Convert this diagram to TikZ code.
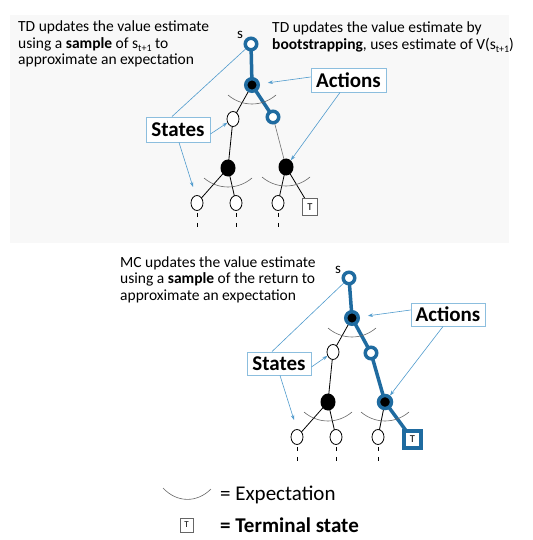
\documentclass[tikz,border=0pt]{standalone}
\usepackage{fontspec}
\setmainfont{Carlito}
\usetikzlibrary{shapes.geometric,arrows.meta,calc}
\definecolor{pathblue}{RGB}{31,107,160}
\definecolor{pointer}{RGB}{80,155,205}
\definecolor{boxline}{RGB}{140,190,222}
\definecolor{panel}{RGB}{248,248,248}
\pgfdeclarelayer{back}
\pgfdeclarelayer{bg}
\pgfsetlayers{back,bg,main}
\newcommand{\subtt}[1]{\raisebox{-3.5pt}{\fontsize{10}{10}\selectfont #1}}
\tikzset{
  txt/.style={anchor=base west, inner sep=0, font=\fontsize{15.5}{17}\selectfont},
  bigtxt/.style={anchor=base west, inner sep=0, font=\fontsize{21}{23}\selectfont},
  state/.style={ellipse, draw, line width=0.8pt, fill=white, minimum width=12pt, minimum height=15pt, inner sep=0},
  act/.style={ellipse, fill=black, minimum width=15pt, minimum height=17pt, inner sep=0},
  pstate/.style={circle, draw=pathblue, line width=3.5pt, fill=white, minimum size=11.5pt, inner sep=0},
  pact/.style={circle, draw=pathblue, line width=3.5pt, fill=black, minimum size=12.5pt, inner sep=0},
  tbox/.style={rectangle, draw=black!60, line width=0.6pt, fill=white, minimum width=15pt, minimum height=17pt, inner sep=0, font=\fontsize{10.5}{11}\selectfont},
  ptbox/.style={rectangle, draw=pathblue, line width=3.5pt, fill=white, minimum width=17pt, minimum height=17pt, inner sep=0, font=\fontsize{10.5}{11}\selectfont},
  lbl/.style={rectangle, draw=boxline, line width=0.9pt, fill=white, inner sep=0, minimum height=24pt, font=\fontsize{21}{23}\selectfont\bfseries},
  edge/.style={line width=0.8pt, black},
  thinedge/.style={line width=0.6pt, black!55},
  pedge/.style={line width=3.5pt, pathblue},
  pointerline/.style={line width=0.6pt, pointer},
  pointerarrow/.style={pointerline, -{Stealth[length=5pt,width=3.5pt]}},
  expect/.style={line width=0.6pt, black!60},
  dashline/.style={line width=0.9pt, black, dash pattern=on 4pt off 6pt},
  slabel/.style={inner sep=0, font=\fontsize{15}{15}\selectfont}
}
\begin{document}
\begin{tikzpicture}[x=1pt,y=-1pt]
\useasboundingbox (0,0) rectangle (532,540);
\begin{pgfonlayer}{back}
\fill[panel] (10,15) rectangle (509,243);
\end{pgfonlayer}

% ---------- texts ----------
\node[txt] (tl1) at (18,32) {TD updates the value estimate};
\node[txt] (tl2) at (18,48.5) {using a \textbf{sample} of s\subtt{t+1} to};
\node[txt] (tl3) at (18,65) {approximate an expectation};
\node[txt] (tr1) at (272,33) {TD updates the value estimate by};
\node[txt] (tr2) at (272,49.5) {\textbf{bootstrapping}, uses estimate of V(s\subtt{t+1})};
\node[txt] (mc1) at (120,267) {MC updates the value estimate};
\node[txt] (mc2) at (120,283.5) {using a \textbf{sample} of the return to};
\node[txt] (mc3) at (120,300) {approximate an expectation};

% ---------- top tree ----------
\node[pstate] (s0) at (251,44) {};
\node[slabel] (s0l) at (240,35) {s};
\node[pact] (a0) at (252,85) {};
\node[state] (sL) at (233,119) {};
\node[pstate] (sR) at (273,117) {};
\node[act] (aL) at (228,168) {};
\node[act] (aR) at (286,167) {};
\node[state] (l1) at (197,203) {};
\node[state] (l2) at (236,203) {};
\node[state] (l3) at (278,203) {};
\node[tbox] (T1) at (310,207) {T};

\begin{pgfonlayer}{bg}
\draw[pedge] (s0.center) -- (a0.center);
\draw[pedge] (a0.center) -- (sR.center);
\draw[edge] (a0.center) -- (sL.center);
\draw[edge] (sL.center) -- (aL.center);
\draw[thinedge] (sR.center) -- (aR.center);
\draw[edge] (aL.center) -- (l1.center);
\draw[edge] (aL.center) -- (l2.center);
\draw[edge] (aR.center) -- (l3.center);
\draw[edge] (aR.center) -- (T1.center);
\end{pgfonlayer}
\foreach \n in {a0,aL,aR}{
  \draw[expect] ($(\n)+(-24,10)$) .. controls ($(\n)+(-10,22)$) and ($(\n)+(10,22)$) .. ($(\n)+(24,10)$);
}
\foreach \n in {l1,l2,l3}{
  \draw[dashline] ($(\n.south)+(0,2)$) -- ($(\n.south)+(0,19)$);
}

\node[lbl, minimum width=64pt, minimum height=25pt] (stT) at (178,129.5) {States};
\node[lbl, minimum width=75pt] (acT) at (348.5,80) {Actions};
\coordinate (stTend) at (193,187);
\begin{pgfonlayer}{bg}
\draw[pointerline] ([xshift=-6pt]stT.north) -- (s0);
\end{pgfonlayer}
\draw[pointerarrow] ([yshift=-4.5pt]stT.east) -- (sL);
\draw[pointerarrow] ([xshift=1pt]stT.south) -- (stTend);
\draw[pointerarrow, shorten >=8pt] ([yshift=3pt]acT.west) -- (a0);
\draw[pointerarrow] ([xshift=-8.5pt]acT.south) -- (aR);

% ---------- bottom tree ----------
\node[pstate] (bs0) at (349,278) {};
\node[slabel] (bs0l) at (338,270) {s};
\node[pact] (ba0) at (352,318) {};
\node[state] (bsL) at (333,352) {};
\node[pstate] (bsR) at (371,353) {};
\node[act] (baL) at (328,402) {};
\node[pact, minimum size=13pt] (baR) at (385,402) {};
\node[state] (bl1) at (297,437) {};
\node[state] (bl2) at (336,437) {};
\node[state] (bl3) at (378,437) {};
\node[ptbox] (T2) at (412.5,439.5) {T};

\begin{pgfonlayer}{bg}
\draw[pedge] (bs0.center) -- (ba0.center);
\draw[pedge] (ba0.center) -- (bsR.center);
\draw[pedge] (bsR.center) -- (baR.center);
\draw[pedge] (baR.center) -- (T2.center);
\draw[edge] (ba0.center) -- (bsL.center);
\draw[edge] (bsL.center) -- (baL.center);
\draw[edge] (baL.center) -- (bl1.center);
\draw[edge] (baL.center) -- (bl2.center);
\draw[edge] (baR.center) -- (bl3.center);
\end{pgfonlayer}
\foreach \n in {ba0,baL,baR}{
  \draw[expect] ($(\n)+(-24,10)$) .. controls ($(\n)+(-10,22)$) and ($(\n)+(10,22)$) .. ($(\n)+(24,10)$);
}
\foreach \n in {bl1,bl2,bl3}{
  \draw[dashline] ($(\n.south)+(0,2)$) -- ($(\n.south)+(0,19)$);
}

\node[lbl, minimum width=64pt, minimum height=23pt] (stB) at (279,363.5) {States};
\node[lbl, minimum width=74pt, minimum height=23pt] (acB) at (448,314.5) {Actions};
\coordinate (stBend) at (294,420);
\begin{pgfonlayer}{bg}
\draw[pointerline] ([xshift=-7pt]stB.north) -- (bs0);
\end{pgfonlayer}
\draw[pointerarrow] ([yshift=-3.5pt]stB.east) -- (bsL);
\draw[pointerarrow] ([xshift=1pt]stB.south) -- (stBend);
\draw[pointerarrow, shorten >=8pt] ([yshift=4.5pt]acB.west) -- (ba0);
\draw[pointerarrow] ([xshift=-5pt]acB.south) -- (baR);

% ---------- legend ----------
\draw[expect] (163,488) .. controls (177,503) and (197,503) .. (211,489);
\node[bigtxt] (legE) at (220,500) {= Expectation};
\node[tbox, minimum width=13pt, minimum height=14pt, font=\fontsize{9}{9}\selectfont] (legT) at (186.5,525) {T};
\node[bigtxt, font=\fontsize{21}{23}\selectfont\bfseries] (legTs) at (220,532) {= Terminal state};
\end{tikzpicture}
\end{document}
